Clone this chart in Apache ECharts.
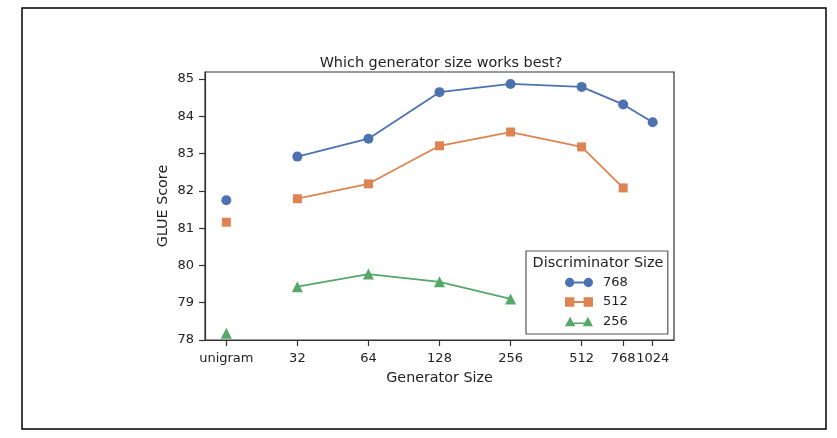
<!DOCTYPE html>
<html>
<head>
<meta charset="utf-8">
<script src="https://cdn.jsdelivr.net/npm/echarts@6/dist/echarts.min.js"></script>
<style>
  html, body { margin: 0; padding: 0; background: #fff; }
  #main { width: 837px; height: 438px; }
</style>
</head>
<body>
<div id="main"></div>
<script>
// generator sizes (unigram sits one doubling left of 32)
var sizeLabels = ['unigram', '32', '64', '128', '256', '512', '768', '1024'];
var sizePos = [4, 5, 6, 7, 8, 9, Math.log2(768), 10];

var disc768 = [81.75, 82.92, 83.40, 84.65, 84.87, 84.79, 84.32, 83.84];
var disc512 = [81.16, 81.79, 82.19, 83.21, 83.58, 83.18, 82.08];
var disc256 = [78.18, 79.43, 79.77, 79.56, 79.10];

var yTicks = [78, 79, 80, 81, 82, 83, 84, 85];

var font = 'DejaVu Sans';
var colors = ['#4c72b0', '#dd8452', '#55a868'];

function linePart(vals) {
    var out = [];
    for (var i = 1; i < vals.length; i++) out.push([sizePos[i], vals[i]]);
    return out;
}

var markers = [
    { name: '768', vals: disc768, symbol: 'circle', size: 10,
      icon: 'path://M0,5a5,5 0 1,0 10,0a5,5 0 1,0 -10,0ZM10,4L20,4L20,6L10,6ZM20,5a5,5 0 1,0 10,0a5,5 0 1,0 -10,0Z' },
    { name: '512', vals: disc512, symbol: 'rect', size: 9,
      icon: 'path://M0,0L10,0L10,4L20,4L20,0L30,0L30,10L20,10L20,6L10,6L10,10L0,10Z' },
    { name: '256', vals: disc256, symbol: 'triangle', size: 11,
      icon: 'path://M5.5,0L11,10L0,10ZM8,6L22,6L22,7.6L8,7.6ZM24.5,0L30,10L19,10Z' }
];

var series = [];
markers.forEach(function (m, k) {
    series.push({
        name: m.name, type: 'line', data: linePart(m.vals),
        symbol: m.symbol, symbolSize: m.size, showSymbol: true,
        itemStyle: { color: colors[k], opacity: 1 },
        lineStyle: { color: colors[k], width: 1.8 },
        emphasis: { disabled: true }, z: 3
    });
    series.push({
        name: m.name, type: 'scatter', data: [[sizePos[0], m.vals[0]]],
        symbol: m.symbol, symbolSize: m.size,
        itemStyle: { color: colors[k], opacity: 1 },
        emphasis: { disabled: true }, z: 3
    });
});

function labelFor(v) {
    for (var i = 0; i < sizePos.length; i++) {
        if (Math.abs(sizePos[i] - v) < 1e-6) return sizeLabels[i];
    }
    return '';
}

var chart = echarts.init(document.getElementById('main'));
chart.setOption({
    animation: false,
    textStyle: { fontFamily: font },
    title: [{
        text: 'Which generator size works best?',
        left: 436, top: 51, textAlign: 'center',
        textStyle: { fontFamily: font, fontSize: 14.4, fontWeight: 'normal', color: '#222' }
    }, {
        text: 'Discriminator Size',
        left: 593, top: 251, textAlign: 'center',
        textStyle: { fontFamily: font, fontSize: 14.4, fontWeight: 'normal', color: '#222' }
    }],
    graphic: [{
        type: 'rect', shape: { x: 22, y: 8, width: 804, height: 421 },
        style: { fill: 'none', stroke: '#000', lineWidth: 1.5 }, silent: true
    }],
    legend: {
        orient: 'vertical', left: 526, top: 251,
        padding: [25, 40, 6, 39],
        itemWidth: 28, itemHeight: 10, itemGap: 6.5,
        borderColor: '#555', borderWidth: 1.2, borderRadius: 0,
        data: markers.map(function (m) { return { name: m.name, icon: m.icon }; }),
        textStyle: { fontFamily: font, fontSize: 13, color: '#222', padding: [0, 0, 0, 5] }
    },
    grid: {
        left: 205, top: 72, right: 163, bottom: 98,
        show: true, borderColor: '#333', borderWidth: 1.2, backgroundColor: 'transparent'
    },
    xAxis: {
        type: 'value', min: 3.7, max: 10.3,
        name: 'Generator Size', nameLocation: 'middle', nameGap: 31,
        nameTextStyle: { fontFamily: font, fontSize: 14.3, color: '#222' },
        axisLine: { show: true, lineStyle: { color: '#333', width: 1.2 } },
        axisTick: { show: true, length: 6, customValues: sizePos, lineStyle: { color: '#333', width: 1.2 } },
        axisLabel: {
            customValues: sizePos, margin: 12,
            formatter: labelFor,
            fontFamily: font, fontSize: 13, color: '#222'
        },
        splitLine: { show: false }
    },
    yAxis: {
        type: 'value', min: 78, max: 85.19,
        name: 'GLUE Score', nameLocation: 'middle', nameGap: 35, nameRotate: 90,
        nameMoveOverlap: false,
        nameTextStyle: { fontFamily: font, fontSize: 14.3, color: '#222' },
        axisLine: { show: true, lineStyle: { color: '#333', width: 1.2 } },
        axisTick: { show: true, length: 6, customValues: yTicks, lineStyle: { color: '#333', width: 1.2 } },
        axisLabel: { customValues: yTicks, margin: 11, fontFamily: font, fontSize: 13, color: '#222' },
        splitLine: { show: false }
    },
    series: series
});
</script>
</body>
</html>
